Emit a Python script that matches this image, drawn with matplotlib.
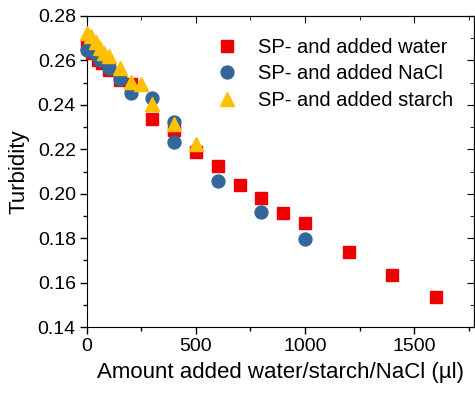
import matplotlib.pyplot as plt
from matplotlib.ticker import MultipleLocator

plt.rcParams['font.family'] = ['Liberation Sans', 'DejaVu Sans']

# turbidity vs. added volume (ul)
water_x = [0, 25, 50, 70, 100, 150, 200, 300, 400, 500, 600, 700, 800, 900, 1000, 1200, 1400, 1600]
water_y = [0.267, 0.2633, 0.260, 0.2588, 0.2557, 0.2512, 0.2495, 0.2336, 0.2285, 0.2188, 0.2125,
           0.204, 0.198, 0.1915, 0.1868, 0.1740, 0.1633, 0.1537]

nacl_x = [0, 35, 60, 100, 150, 200, 300, 400, 400, 600, 800, 1000]
nacl_y = [0.2647, 0.2633, 0.2600, 0.2566, 0.2518, 0.2455, 0.2433, 0.2323, 0.2233, 0.2057, 0.1918, 0.1796]

starch_x = [0, 20, 40, 60, 80, 100, 150, 200, 250, 300, 400, 500]
starch_y = [0.2723, 0.2712, 0.2683, 0.2655, 0.2635, 0.2622, 0.2566, 0.2503, 0.2496, 0.2406, 0.2312, 0.2226]

labels = ['SP- and added water', 'SP- and added NaCl', 'SP- and added starch']

fig = plt.figure(figsize=(4.75, 3.99), dpi=100)
ax = fig.add_axes([0.183, 0.18, 0.815, 0.78])

ax.plot(water_x, water_y, 's', color='#ee0000', markersize=8.3, label=labels[0], clip_on=False, zorder=3)
ax.plot(nacl_x, nacl_y, 'o', color='#336699', markersize=9.3, label=labels[1], clip_on=False, zorder=3)
ax.plot(starch_x, starch_y, '^', color='#ffc000', markersize=10.5, label=labels[2], clip_on=False, zorder=3)

ax.set_xlim(0, 1775)
ax.set_ylim(0.14, 0.28)
ax.xaxis.set_major_locator(MultipleLocator(500))
ax.xaxis.set_minor_locator(MultipleLocator(250))
ax.yaxis.set_major_locator(MultipleLocator(0.02))
ax.yaxis.set_minor_locator(MultipleLocator(0.01))
ax.yaxis.set_major_formatter(plt.FormatStrFormatter('%.2f'))
ax.tick_params(which='major', direction='out', length=5, width=1, labelsize=14, pad=3)
ax.tick_params(which='minor', direction='out', length=3, width=1)

# inward ticks on top and right
top = ax.secondary_xaxis('top')
top.xaxis.set_major_locator(MultipleLocator(500))
top.xaxis.set_minor_locator(MultipleLocator(250))
top.tick_params(which='major', direction='in', length=5, labeltop=False)
top.tick_params(which='minor', direction='in', length=3)
right = ax.secondary_yaxis('right')
right.yaxis.set_major_locator(MultipleLocator(0.02))
right.yaxis.set_minor_locator(MultipleLocator(0.01))
right.tick_params(which='major', direction='in', length=5, labelright=False)
right.tick_params(which='minor', direction='in', length=3)

ax.set_xlabel('Amount added water/starch/NaCl (\u00b5l)', fontsize=16, labelpad=5)
ax.set_ylabel('Turbidity', fontsize=16, labelpad=6)

ax.legend(loc='upper right', frameon=False, fontsize=14.5, handletextpad=0.55,
          borderpad=0, borderaxespad=0, labelspacing=0.38, bbox_to_anchor=(0.947, 0.93))

fig.savefig('out.png', dpi=100)
